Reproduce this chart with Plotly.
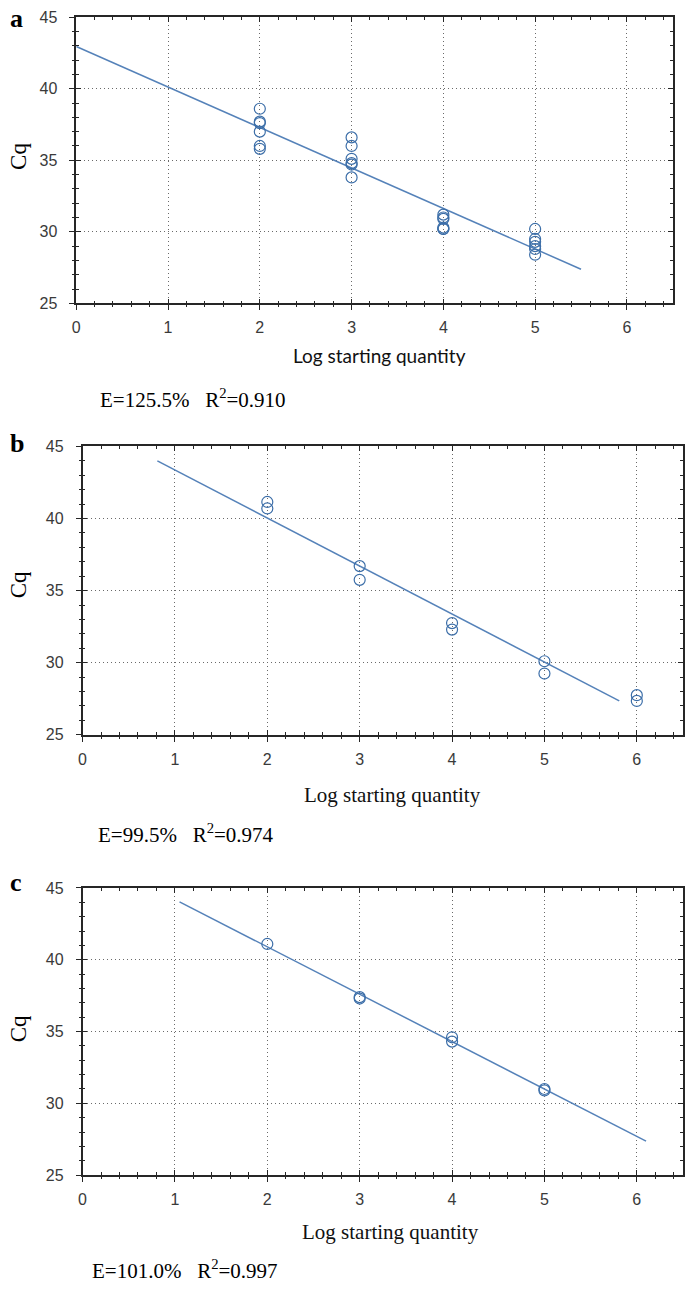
import plotly.graph_objects as go

W, H = 685, 1292

# ---------------- data ----------------
a_x = [2, 2, 2, 2, 2, 2, 3, 3, 3, 3, 3, 3, 4, 4, 4, 4, 4, 4, 5, 5, 5, 5, 5, 5]
a_cq = [38.6, 37.7, 37.6, 37.0, 36.0, 35.8,
        36.6, 36.0, 35.1, 34.8, 34.7, 33.8,
        31.2, 31.0, 30.9, 30.3, 30.2, 30.2,
        30.2, 29.5, 29.3, 29.0, 28.8, 28.4]
a_fit_x = [0.0, 5.5]
a_slope, a_intercept = -2.83, 42.95
a_label = "E=125.5%   R<sup>2</sup>=0.910"

b_x = [2, 2, 3, 3, 4, 4, 5, 5, 6, 6]
b_cq = [41.15, 40.7, 36.7, 35.75, 32.75, 32.3, 30.1, 29.25, 27.75, 27.35]
b_fit_x = [0.81, 5.81]
b_slope, b_intercept = -3.33, 46.7
b_label = "E=99.5%   R<sup>2</sup>=0.974"

c_x = [2, 3, 3, 4, 4, 5, 5]
c_cq = [41.1, 37.4, 37.3, 34.6, 34.3, 31.0, 30.9]
c_fit_x = [1.05, 6.1]
c_slope, c_intercept = -3.30, 47.5
c_label = "E=101.0%   R<sup>2</sup>=0.997"

x_range = [0, 6.5]
y_range = [25, 45]
x_title = "Log starting quantity"
y_title = "Cq"

# ---------------- layout helpers ----------------
def px(x):
    return x / W

def py(y):
    return 1 - y / H

panels = [
    dict(letter="a", xs=a_x, ys=a_cq, fx=a_fit_x, m=a_slope, b=a_intercept, lab=a_label,
         xdom=[px(72.7), px(672.7)], ydom=[py(299.3), py(9.3)],
         letter_y=11, cq_y=150, xt_y=352, xt_x=378, lab_x=95, lab_y=396,
         xt_font=dict(family="Lato, 'Open Sans', sans-serif", size=19, color="#111")),
    dict(letter="b", xs=b_x, ys=b_cq, fx=b_fit_x, m=b_slope, b=b_intercept, lab=b_label,
         xdom=[px(79), px(683)], ydom=[py(736.5), py(444.3)],
         letter_y=441, cq_y=584, xt_y=797, xt_x=391, lab_x=93, lab_y=836,
         xt_font=dict(family="'Liberation Serif', 'Times New Roman', serif", size=21, color="#111")),
    dict(letter="c", xs=c_x, ys=c_cq, fx=c_fit_x, m=c_slope, b=c_intercept, lab=c_label,
         xdom=[px(79), px(683)], ydom=[py(1182.7), py(891.7)],
         letter_y=886, cq_y=1034, xt_y=1240, xt_x=389, lab_x=87, lab_y=1278,
         xt_font=dict(family="'Liberation Serif', 'Times New Roman', serif", size=21, color="#111")),
]

line_color = "#5582b9"
marker_color = "#3c6ea8"
axis_color = "#262626"
tick_font = dict(family="'Liberation Sans Narrow', 'Arial Narrow', 'Liberation Sans', Arial, sans-serif",
                 size=16, color="#3a3a3a")
serif = "'Liberation Serif', 'Times New Roman', serif"

fig = go.Figure()
layout = dict(
    width=W, height=H,
    margin=dict(l=0, r=0, t=0, b=0),
    paper_bgcolor="white", plot_bgcolor="white",
    showlegend=False,
)
annotations = []

for i, p in enumerate(panels):
    n_main = i + 1          # axes 1..3
    n_ov = i + 4            # overlay axes 4..6
    xm = "x" if n_main == 1 else f"x{n_main}"
    ym = "y" if n_main == 1 else f"y{n_main}"
    xo, yo = f"x{n_ov}", f"y{n_ov}"

    fit_y = [p["b"] + p["m"] * v for v in p["fx"]]
    fig.add_trace(go.Scatter(x=p["fx"], y=fit_y, mode="lines", xaxis=xm, yaxis=ym,
                             line=dict(color=line_color, width=1.5), hoverinfo="skip"))
    fig.add_trace(go.Scatter(x=p["xs"], y=p["ys"], mode="markers", xaxis=xm, yaxis=ym,
                             marker=dict(symbol="circle-open", size=11, color=marker_color,
                                         line=dict(width=1.2, color=marker_color))))
    # dummy trace for overlay axes (outer ticks)
    fig.add_trace(go.Scatter(x=[None], y=[None], mode="markers", xaxis=xo, yaxis=yo,
                             hoverinfo="skip"))

    common_x = dict(range=x_range, dtick=1, tick0=0, showline=True, linecolor=axis_color,
                    linewidth=1.5, tickcolor=axis_color, tickwidth=1.2)
    common_y = dict(range=y_range, dtick=5, tick0=25, showline=True, linecolor=axis_color,
                    linewidth=1.5, tickcolor=axis_color, tickwidth=1.2)

    layout["xaxis" if n_main == 1 else f"xaxis{n_main}"] = dict(
        common_x, domain=p["xdom"], anchor=ym, ticks="inside", ticklen=5, mirror="ticks",
        showgrid=True, gridcolor="#6a6a6a", gridwidth=1, griddash="1px,3px",
        tickfont=tick_font, ticklabelstandoff=9, zeroline=False,
        minor=dict(ticks="inside", dtick=0.2, ticklen=3, tickcolor=axis_color, tickwidth=1,
                   showgrid=False),
    )
    layout["yaxis" if n_main == 1 else f"yaxis{n_main}"] = dict(
        common_y, domain=p["ydom"], anchor=xm, ticks="inside", ticklen=5, mirror="ticks",
        showgrid=True, gridcolor="#6a6a6a", gridwidth=1, griddash="1px,3px",
        tickfont=tick_font, ticklabelstandoff=14, zeroline=False,
        minor=dict(ticks="inside", dtick=1, ticklen=3, tickcolor=axis_color, tickwidth=1,
                   showgrid=False),
    )
    layout[f"xaxis{n_ov}"] = dict(
        common_x, domain=p["xdom"], overlaying=xm, anchor=yo, ticks="outside", ticklen=6,
        showticklabels=False, showgrid=False, zeroline=False, showline=False,
        minor=dict(ticks="outside", dtick=0.2, ticklen=3, tickcolor=axis_color, tickwidth=1,
                   showgrid=False),
    )
    layout[f"yaxis{n_ov}"] = dict(
        common_y, domain=p["ydom"], overlaying=ym, anchor=xo, ticks="outside", ticklen=6,
        showticklabels=False, showgrid=False, zeroline=False, showline=False,
        minor=dict(ticks="outside", dtick=1, ticklen=3, tickcolor=axis_color, tickwidth=1,
                   showgrid=False),
    )

    annotations.append(dict(text=f"<b>{p['letter']}</b>", x=px(4), y=py(p["letter_y"]),
                            xref="paper", yref="paper", xanchor="left", yanchor="middle",
                            showarrow=False, font=dict(family=serif, size=26, color="#000")))
    annotations.append(dict(text=y_title, x=px(14), y=py(p["cq_y"]), xref="paper", yref="paper",
                            xanchor="center", yanchor="middle", textangle=-90, showarrow=False,
                            font=dict(family=serif, size=23, color="#000")))
    annotations.append(dict(text=x_title, x=px(p["xt_x"]), y=py(p["xt_y"]), xref="paper",
                            yref="paper", xanchor="center", yanchor="middle", showarrow=False,
                            font=p["xt_font"]))
    annotations.append(dict(text=p["lab"], x=px(p["lab_x"]), y=py(p["lab_y"]), xref="paper",
                            yref="paper", xanchor="left", yanchor="middle", showarrow=False,
                            font=dict(family=serif, size=21, color="#000")))

layout["annotations"] = annotations
fig.update_layout(**layout)
fig.write_html("out.html", config={"displayModeBar": False},
               post_script="document.body.style.margin='0';document.body.style.overflow='hidden';")
